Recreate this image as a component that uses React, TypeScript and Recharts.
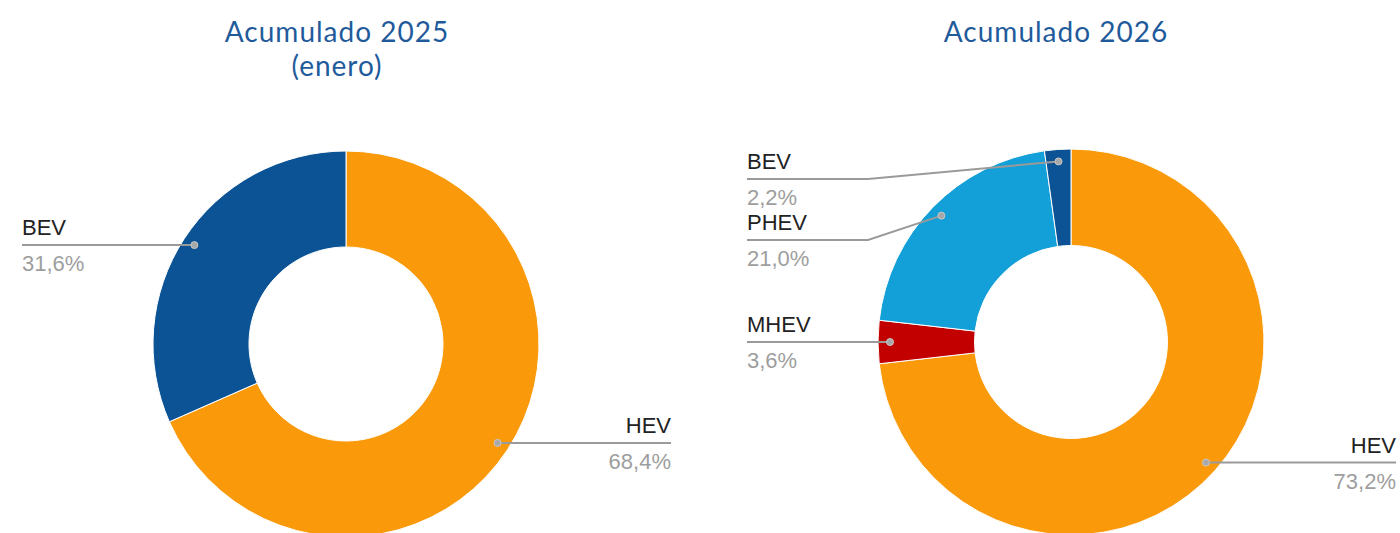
import React from 'react';
import { PieChart, Pie, Cell } from 'recharts';

const CATS_2025 = ['HEV', 'BEV'];
const VALUES_2025 = [68.4, 31.6];
const CATS_2026 = ['HEV', 'MHEV', 'PHEV', 'BEV'];
const VALUES_2026 = [73.2, 3.6, 21.0, 2.2];
const TITLE_2025 = ['Acumulado 2025', '(enero)'];
const TITLE_2026 = ['Acumulado 2026'];

const COLORS: Record<string, string> = {
  HEV: '#FA9A0A',
  BEV: '#0B5394',
  PHEV: '#139FD7',
  MHEV: '#C20000',
};

const W = 1400;
const H = 533;
const RAD = Math.PI / 180;
const LABEL_FONT = '"Liberation Sans", Arial, sans-serif';

const fmt = (v: number) => v.toFixed(1).replace('.', ',') + '%';

function computeLineY(values: number[], cy: number, R: number) {
  const total = values.reduce((a, b) => a + b, 0);
  let acc = 0;
  const items = values.map((v, i) => {
    const mid = (acc + v / 2) / total;
    acc += v;
    const ang = mid * 2 * Math.PI;
    return { i, dotY: cy - (R - 12) * Math.cos(ang), left: Math.sin(ang) < 0 };
  });
  const lineY: number[] = [];
  [true, false].forEach((side) => {
    const list = items.filter((it) => it.left === side).sort((a, b) => a.dotY - b.dotY);
    let prev = -Infinity;
    list.forEach((it) => {
      const y = Math.max(it.dotY, cy - R + 30, prev + 61);
      lineY[it.i] = y;
      prev = y;
    });
  });
  return lineY;
}

function makeLabel(values: number[], cy: number, R: number) {
  const lineY = computeLineY(values, cy, R);
  return (props: any) => {
    const { cx, midAngle, outerRadius, index, name, value } = props;
    const pcy = props.cy;
    const r = outerRadius - 12;
    const dx = cx + r * Math.cos(-midAngle * RAD);
    const dy = pcy + r * Math.sin(-midAngle * RAD);
    const isLeft = dx < cx;
    const ly = lineY[index];
    const tx = isLeft ? cx - 324 : cx + 325;
    const ex = isLeft ? cx - 203 : cx + 203;
    const d = Math.abs(ly - dy) < 1
      ? `M ${tx} ${ly} L ${dx} ${ly}`
      : `M ${tx} ${ly} L ${ex} ${ly} L ${dx} ${dy}`;
    const anchor = isLeft ? 'start' : 'end';
    return (
      <g key={`lbl-${index}`}>
        <path d={d} stroke="#9a9a9a" strokeWidth={2} fill="none" />
        <circle cx={dx} cy={Math.abs(ly - dy) < 1 ? ly : dy} r={3.5} fill="#a8a8a8" stroke="#c8c8c8" strokeWidth={1} />
        <text x={tx} y={ly - 10} textAnchor={anchor} fontFamily={LABEL_FONT} fontSize={22} fill="#222222">
          {name}
        </text>
        <text x={tx} y={ly + 26} textAnchor={anchor} fontFamily={LABEL_FONT} fontSize={22} fill="#9e9e9e">
          {fmt(value)}
        </text>
      </g>
    );
  };
}

const data2025 = CATS_2025.map((c, i) => ({ name: c, value: VALUES_2025[i] }));
const data2026 = CATS_2026.map((c, i) => ({ name: c, value: VALUES_2026[i] }));

const L = { cx: 346, cy: 344, outer: 193, inner: 97 };
const Rt = { cx: 1071, cy: 342, outer: 193, inner: 96.5 };

const label2025 = makeLabel(VALUES_2025, L.cy, L.outer);
const label2026 = makeLabel(VALUES_2026, Rt.cy, Rt.outer);

export default function App() {
  const titleStyle = {
    fontFamily: 'Lato, "Open Sans", sans-serif',
    fontSize: 28,
    fill: '#1F5B9B',
    letterSpacing: 1,
  } as const;
  return (
    <div style={{ position: 'absolute', left: 0, top: 0, width: W, height: H, background: '#fff' }}>
      <PieChart width={W} height={H} margin={{ top: 0, right: 0, bottom: 0, left: 0 }}>
        <Pie
          data={data2025}
          dataKey="value"
          nameKey="name"
          cx={L.cx}
          cy={L.cy}
          outerRadius={L.outer}
          innerRadius={L.inner}
          startAngle={90}
          endAngle={-270}
          stroke="#ffffff"
          strokeWidth={1}
          label={label2025}
          labelLine={false}
          isAnimationActive={false}
        >
          {data2025.map((d) => (
            <Cell key={d.name} fill={COLORS[d.name]} />
          ))}
        </Pie>
        <Pie
          data={data2026}
          dataKey="value"
          nameKey="name"
          cx={Rt.cx}
          cy={Rt.cy}
          outerRadius={Rt.outer}
          innerRadius={Rt.inner}
          startAngle={90}
          endAngle={-270}
          stroke="#ffffff"
          strokeWidth={1}
          label={label2026}
          labelLine={false}
          isAnimationActive={false}
        >
          {data2026.map((d) => (
            <Cell key={d.name} fill={COLORS[d.name]} />
          ))}
        </Pie>
      </PieChart>
      <svg width={W} height={H} style={{ position: 'absolute', left: 0, top: 0, pointerEvents: 'none' }}>
        {TITLE_2025.map((t, i) => (
          <text key={t} x={337} y={42 + i * 34} textAnchor="middle" {...titleStyle}>
            {t}
          </text>
        ))}
        {TITLE_2026.map((t, i) => (
          <text key={t} x={1056} y={42 + i * 34} textAnchor="middle" {...titleStyle}>
            {t}
          </text>
        ))}
      </svg>
    </div>
  );
}
